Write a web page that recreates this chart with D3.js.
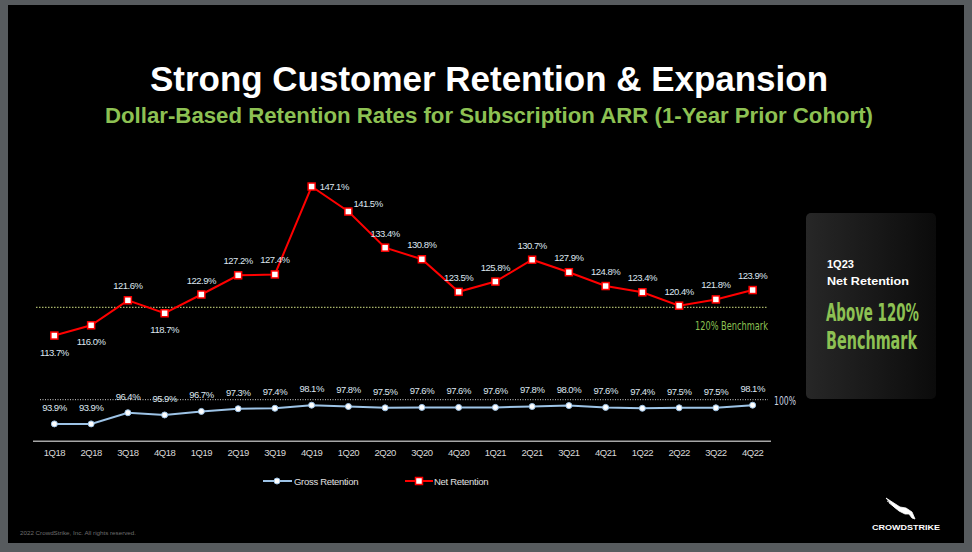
<!DOCTYPE html>
<html>
<head>
<meta charset="utf-8">
<script src="https://cdn.jsdelivr.net/npm/d3@7"></script>
<style>
  body { margin: 0; background: #575b5e; }
  svg { display: block; }
</style>
</head>
<body>
<svg width="972" height="552"></svg>
<script>
const quarters = ["1Q18","2Q18","3Q18","4Q18","1Q19","2Q19","3Q19","4Q19","1Q20","2Q20",
                  "3Q20","4Q20","1Q21","2Q21","3Q21","4Q21","1Q22","2Q22","3Q22","4Q22"]
const netRetention = [113.7,116.0,121.6,118.7,122.9,127.2,127.4,147.1,141.5,133.4,
                      130.8,123.5,125.8,130.7,127.9,124.8,123.4,120.4,121.8,123.9]
const grossRetention = [93.9,93.9,96.4,95.9,96.7,97.3,97.4,98.1,97.8,97.5,
                        97.6,97.6,97.6,97.8,98.0,97.6,97.4,97.5,97.5,98.1]
// where each net label sits relative to its marker
const netLabelPos = ["below","below","above","below","above","above","above","right","upright","above",
                     "above","above","above","above","above","above","above","above","above","above"]
const benchmark = 120
const grossRef = 100

const svg = d3.select("svg")

// squeeze a text horizontally to a given width (condensed look)
function fitText(g, str, width, anchor) {
    const t = g.append("text").text(str)
    return t
}
function condensed(x0, y0, width, anchor) {
    const g = svg.append("g")
    const t = g.append("text")
    return {g, t, done() {
        const len = t.node().getComputedTextLength()
        const s = width / len
        const tx = anchor === "end" ? x0 - width : x0
        g.attr("transform", `translate(${tx}, ${y0}) scale(${s}, 1)`)
    }}
}

// slide background
svg.append("rect")
    .attr("x", 8).attr("y", 5)
    .attr("width", 956).attr("height", 538)
    .attr("fill", "#000")

// titles
svg.append("text")
    .attr("x", 489).attr("y", 91)
    .attr("text-anchor", "middle")
    .attr("font-family", "Liberation Sans, Arial, sans-serif")
    .attr("font-weight", "bold")
    .attr("font-size", "35px")
    .attr("fill", "#fff")
    .attr("textLength", 678)
    .attr("lengthAdjust", "spacingAndGlyphs")
    .text("Strong Customer Retention & Expansion")

svg.append("text")
    .attr("x", 489).attr("y", 123)
    .attr("text-anchor", "middle")
    .attr("font-family", "Liberation Sans, Arial, sans-serif")
    .attr("font-weight", "bold")
    .attr("font-size", "22px")
    .attr("fill", "#8dc153")
    .attr("textLength", 768)
    .attr("lengthAdjust", "spacingAndGlyphs")
    .text("Dollar-Based Retention Rates for Subscription ARR (1-Year Prior Cohort)")

// scales
const x = d3.scaleBand()
    .domain(quarters)
    .range([36, 771])

const y = d3.scaleLinear()
    .domain([90, 150])
    .range([441.3, 173.6])

const cx = d => x(d) + x.bandwidth() / 2

// x axis
const xAxis = svg.append("g")
    .attr("transform", `translate(0, ${y(90)})`)
    .call(d3.axisBottom(x).tickSize(0).tickPadding(8))
xAxis.select(".domain")
    .attr("stroke", "#a6a6a6")
    .attr("stroke-width", 1.5)
    .attr("d", "M33,0H771")
xAxis.selectAll("text")
    .attr("fill", "#d9d9d9")
    .attr("font-family", "Liberation Sans, Arial, sans-serif")
    .attr("font-size", "9.5px")
    .attr("letter-spacing", "-0.5px")

// reference lines
svg.append("line")
    .attr("x1", 36).attr("x2", 768)
    .attr("y1", y(benchmark)).attr("y2", y(benchmark))
    .attr("stroke", "#a8b46a")
    .attr("stroke-width", 1.3)
    .attr("stroke-dasharray", "1.5,1.5")

const bm = condensed(768, y(benchmark) + 23, 73, "end")
bm.t.attr("font-family", "DejaVu Sans Condensed, DejaVu Sans, sans-serif")
    .attr("font-size", "12px")
    .attr("fill", "#8dc153")
    .text(benchmark + "% Benchmark")
bm.done()

svg.append("line")
    .attr("x1", 40).attr("x2", 768)
    .attr("y1", y(grossRef) + 3).attr("y2", y(grossRef) + 3)
    .attr("stroke", "#d0d0d0")
    .attr("stroke-width", 1)
    .attr("stroke-dasharray", "1,1.5")

const hr = condensed(774, y(grossRef) + 8, 22, "start")
hr.t.attr("font-family", "DejaVu Sans Condensed, DejaVu Sans, sans-serif")
    .attr("font-size", "12px")
    .attr("fill", "#c9d3e0")
    .text(grossRef + "%")
hr.done()

// gross retention line
const grossLine = d3.line()
    .x((d, i) => cx(quarters[i]))
    .y(d => y(d))

svg.append("path")
    .datum(grossRetention)
    .attr("fill", "none")
    .attr("stroke", "#9dc3e6")
    .attr("stroke-width", 2)
    .attr("d", grossLine)

svg.selectAll(".gdot")
    .data(grossRetention)
    .join("circle")
    .attr("class", "gdot")
    .attr("cx", (d, i) => cx(quarters[i]))
    .attr("cy", d => y(d))
    .attr("r", 3)
    .attr("fill", "#fff")
    .attr("stroke", "#9dc3e6")
    .attr("stroke-width", 1)

svg.selectAll(".glabel")
    .data(grossRetention)
    .join("text")
    .attr("class", "glabel")
    .attr("x", (d, i) => cx(quarters[i]))
    .attr("y", d => y(d) - 13)
    .attr("text-anchor", "middle")
    .attr("font-family", "Liberation Sans, Arial, sans-serif")
    .attr("font-size", "9.5px")
    .attr("letter-spacing", "-0.5px")
    .attr("fill", "#dde6f0")
    .text(d => d.toFixed(1) + "%")

// net retention line
const netLine = d3.line()
    .x((d, i) => cx(quarters[i]))
    .y(d => y(d))

svg.append("path")
    .datum(netRetention)
    .attr("fill", "none")
    .attr("stroke", "#ff0000")
    .attr("stroke-width", 2)
    .attr("d", netLine)

svg.selectAll(".ndot")
    .data(netRetention)
    .join("rect")
    .attr("class", "ndot")
    .attr("x", (d, i) => cx(quarters[i]) - 3.5)
    .attr("y", d => y(d) - 3.5)
    .attr("width", 7).attr("height", 7)
    .attr("fill", "#fff")
    .attr("stroke", "#ff0000")
    .attr("stroke-width", 1.5)

const labelDx = {above: 0, below: 0, right: 8, upright: 5}
const labelDy = {above: -11, below: 20, right: 3, upright: -5}
svg.selectAll(".nlabel")
    .data(netRetention)
    .join("text")
    .attr("class", "nlabel")
    .attr("x", (d, i) => cx(quarters[i]) + labelDx[netLabelPos[i]])
    .attr("y", (d, i) => y(d) + labelDy[netLabelPos[i]])
    .attr("text-anchor", (d, i) => netLabelPos[i].includes("right") ? "start" : "middle")
    .attr("font-family", "Liberation Sans, Arial, sans-serif")
    .attr("font-size", "9.5px")
    .attr("letter-spacing", "-0.5px")
    .attr("fill", "#dde6f0")
    .text(d => d.toFixed(1) + "%")

// legend
const legend = svg.append("g").attr("transform", "translate(0, 481)")
legend.append("line").attr("x1", 263).attr("x2", 292).attr("stroke", "#9dc3e6").attr("stroke-width", 2)
legend.append("circle").attr("cx", 277).attr("r", 3).attr("fill", "#fff").attr("stroke", "#9dc3e6")
legend.append("text").attr("x", 294).attr("y", 3.5).text("Gross Retention")
legend.append("line").attr("x1", 405).attr("x2", 433).attr("stroke", "#ff0000").attr("stroke-width", 2)
legend.append("rect").attr("x", 415.5).attr("y", -3.5).attr("width", 7).attr("height", 7)
    .attr("fill", "#fff").attr("stroke", "#ff0000").attr("stroke-width", 1.5)
legend.append("text").attr("x", 434).attr("y", 3.5).text("Net Retention")
legend.selectAll("text")
    .attr("font-family", "Liberation Sans, Arial, sans-serif")
    .attr("font-size", "9.5px")
    .attr("letter-spacing", "-0.3px")
    .attr("fill", "#e0e0e0")

// side panel
const grad = svg.append("defs").append("linearGradient")
    .attr("id", "panelGrad")
    .attr("x1", "0%").attr("x2", "100%")
grad.append("stop").attr("offset", "0%").attr("stop-color", "#272727")
grad.append("stop").attr("offset", "100%").attr("stop-color", "#0b0b0b")

svg.append("rect")
    .attr("x", 806).attr("y", 213)
    .attr("width", 130).attr("height", 186)
    .attr("rx", 5)
    .attr("fill", "url(#panelGrad)")

svg.append("text")
    .attr("x", 827).attr("y", 268)
    .attr("font-family", "Liberation Sans, Arial, sans-serif")
    .attr("font-weight", "bold")
    .attr("font-size", "11px")
    .attr("fill", "#fff")
    .text("1Q23")
const nr = condensed(827, 285, 82, "start")
nr.t.attr("font-family", "Liberation Sans, Arial, sans-serif")
    .attr("font-weight", "bold")
    .attr("font-size", "11px")
    .attr("fill", "#fff")
    .text("Net Retention")
nr.done()

const a1 = condensed(826, 321, 93, "start")
a1.t.attr("font-family", "DejaVu Sans Condensed, DejaVu Sans, sans-serif")
    .attr("font-weight", "bold")
    .attr("font-size", "24px")
    .attr("fill", "#8dc153")
    .text("Above 120%")
a1.done()
const a2 = condensed(826, 349, 91, "start")
a2.t.attr("font-family", "DejaVu Sans Condensed, DejaVu Sans, sans-serif")
    .attr("font-weight", "bold")
    .attr("font-size", "24px")
    .attr("fill", "#8dc153")
    .text("Benchmark")
a2.done()

// footer
svg.append("text")
    .attr("x", 20).attr("y", 535)
    .attr("font-family", "Liberation Sans, Arial, sans-serif")
    .attr("font-size", "6px")
    .attr("fill", "#6e6e6e")
    .attr("textLength", 116)
    .attr("lengthAdjust", "spacingAndGlyphs")
    .text("2022 CrowdStrike, Inc. All rights reserved.")

// falcon mark (rough)
svg.append("path")
    .attr("d", "M886,498 L900,507 L906,508 L912,512 L915,519 L912,518 L909,514 L905,514 L899,511 L893,506 Z M889,503 L897,509 M887,501 L897,507")
    .attr("fill", "#fff")
    .attr("stroke", "#fff")
    .attr("stroke-width", 0.8)

svg.append("text")
    .attr("x", 906).attr("y", 530)
    .attr("text-anchor", "middle")
    .attr("font-family", "Liberation Sans, Arial, sans-serif")
    .attr("font-weight", "bold")
    .attr("font-size", "8px")
    .attr("fill", "#fff")
    .attr("textLength", 68)
    .attr("lengthAdjust", "spacingAndGlyphs")
    .text("CROWDSTRIKE")
</script>
</body>
</html>
